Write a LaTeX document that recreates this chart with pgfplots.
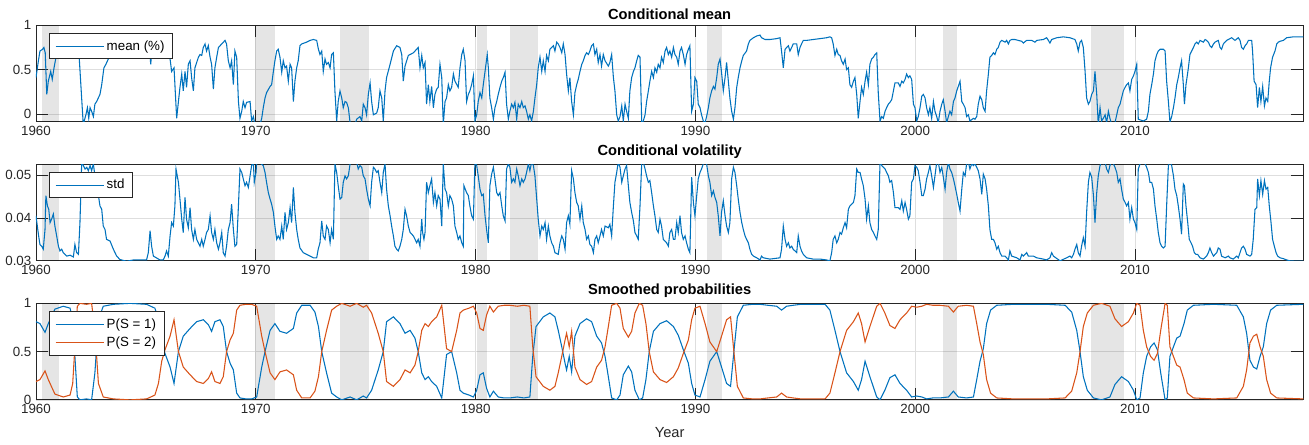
\documentclass[border=0pt]{standalone}
\usepackage{fontspec}
\setmainfont{Liberation Sans}
\usepackage{pgfplots}
\usepackage{pgfplotstable}
\pgfplotsset{compat=1.18}
\definecolor{mblue}{RGB}{0,114,189}
\definecolor{morange}{RGB}{217,83,25}
\definecolor{axgray}{RGB}{38,38,38}
\definecolor{gridgray}{RGB}{222,222,222}

\pgfplotstableread{
x y
1960.00 0.41
1960.11 0.60
1960.18 0.71
1960.30 0.73
1960.36 0.75
1960.42 0.69
1960.49 0.22
1960.56 0.37
1960.67 0.48
1960.74 0.39
1960.82 0.52
1960.91 0.64
1961.00 0.70
1961.20 0.78
1961.40 0.82
1961.60 0.80
1961.80 0.72
1961.97 0.62
1962.15 -0.12
1962.27 -0.01
1962.34 0.07
1962.40 -0.05
1962.46 0.07
1962.53 0.03
1962.61 -0.03
1962.68 0.11
1962.76 0.14
1962.91 0.22
1962.99 0.33
1963.09 0.52
1963.18 0.56
1963.29 0.62
1963.40 0.70
1963.70 0.80
1964.00 0.84
1964.50 0.85
1965.00 0.84
1965.16 0.75
1965.22 0.56
1965.28 0.75
1965.50 0.80
1965.80 0.78
1966.10 0.62
1966.17 0.48
1966.28 0.52
1966.40 -0.05
1966.48 0.14
1966.55 0.30
1966.63 0.45
1966.70 0.26
1966.78 0.48
1966.85 0.30
1966.93 0.56
1967.01 0.60
1967.08 0.41
1967.16 0.26
1967.23 0.52
1967.39 0.64
1967.46 0.67
1967.54 0.66
1967.61 0.75
1967.69 0.79
1967.76 0.71
1967.84 0.77
1967.92 0.64
1967.99 0.56
1968.07 0.28
1968.14 0.52
1968.22 0.64
1968.30 0.75
1968.45 0.79
1968.60 0.83
1968.67 0.79
1968.75 0.60
1968.83 0.52
1968.90 0.60
1968.98 0.33
1969.05 0.71
1969.13 0.64
1969.21 0.14
1969.28 -0.05
1969.36 0.03
1969.43 0.14
1969.51 0.07
1969.58 0.13
1969.74 0.14
1969.81 -0.08
1969.89 -0.03
1969.96 -0.12
1970.19 -0.12
1970.27 -0.05
1970.34 0.07
1970.42 0.18
1970.49 0.24
1970.65 0.31
1970.72 0.33
1970.80 0.48
1970.87 0.60
1970.95 0.71
1971.02 0.73
1971.10 0.64
1971.18 0.47
1971.25 0.60
1971.33 0.52
1971.40 0.54
1971.48 0.37
1971.56 0.56
1971.63 0.52
1971.71 0.14
1971.78 0.37
1971.86 0.52
1971.93 0.60
1972.01 0.77
1972.09 0.79
1972.31 0.81
1972.47 0.83
1972.62 0.84
1972.77 0.83
1972.85 0.73
1972.92 0.67
1973.00 0.71
1973.07 0.48
1973.15 0.62
1973.22 0.56
1973.30 0.58
1973.38 0.52
1973.45 0.67
1973.53 0.69
1973.60 0.26
1973.68 -0.08
1973.75 0.14
1973.83 0.26
1973.91 0.18
1973.98 0.07
1974.06 0.14
1974.13 0.13
1974.21 0.07
1974.29 -0.10
1974.51 -0.12
1974.59 -0.06
1974.74 -0.03
1974.82 -0.08
1974.89 0.11
1974.97 0.07
1975.04 -0.01
1975.12 0.22
1975.20 0.35
1975.27 0.14
1975.35 -0.01
1975.50 0.01
1975.57 0.07
1975.65 0.26
1975.73 0.18
1975.80 -0.08
1975.88 0.26
1975.95 0.41
1976.11 0.56
1976.26 0.71
1976.41 0.77
1976.56 0.75
1976.64 0.67
1976.71 0.37
1976.79 0.54
1976.94 0.66
1977.17 0.69
1977.39 0.75
1977.47 0.52
1977.55 0.66
1977.62 0.52
1977.70 0.58
1977.77 0.11
1977.85 0.33
1977.92 0.14
1978.00 0.31
1978.08 0.07
1978.15 0.22
1978.23 0.28
1978.30 0.30
1978.38 0.56
1978.46 0.41
1978.53 -0.12
1978.61 0.14
1978.68 0.18
1978.76 0.33
1978.83 0.26
1978.91 0.30
1978.99 0.45
1979.06 0.37
1979.21 0.30
1979.29 0.52
1979.37 0.67
1979.44 0.73
1979.52 0.60
1979.59 0.14
1979.67 0.22
1979.74 0.26
1979.82 0.33
1979.90 0.43
1979.97 -0.08
1980.05 -0.01
1980.12 0.14
1980.20 0.24
1980.28 0.18
1980.35 0.33
1980.43 0.48
1980.53 0.67
1980.58 0.52
1980.65 0.18
1980.73 0.07
1980.81 -0.06
1980.88 0.07
1980.96 0.14
1981.03 0.22
1981.11 0.30
1981.19 0.37
1981.26 0.41
1981.34 0.47
1981.41 0.11
1981.49 -0.06
1981.56 0.03
1981.64 0.11
1981.72 0.07
1981.79 0.13
1981.87 -0.06
1981.94 0.11
1982.02 0.07
1982.10 0.14
1982.17 0.07
1982.25 0.09
1982.32 0.03
1982.40 -0.06
1982.47 -0.01
1982.55 -0.08
1982.63 0.03
1982.70 0.18
1982.78 0.33
1982.85 0.52
1982.93 0.64
1983.01 0.48
1983.08 0.60
1983.16 0.48
1983.23 0.66
1983.31 0.60
1983.38 0.73
1983.54 0.77
1983.61 0.71
1983.69 0.81
1983.76 0.79
1983.84 0.75
1983.92 0.69
1983.99 0.79
1984.07 0.67
1984.14 0.45
1984.22 0.26
1984.29 0.41
1984.37 0.14
1984.45 -0.01
1984.52 0.24
1984.60 0.33
1984.67 0.39
1984.75 0.48
1984.83 0.56
1984.90 0.60
1984.98 0.66
1985.05 0.69
1985.13 0.67
1985.20 0.71
1985.28 0.77
1985.36 0.79
1985.43 0.67
1985.51 0.73
1985.58 0.58
1985.66 0.67
1985.73 0.54
1985.81 0.67
1985.89 0.60
1986.04 0.54
1986.11 0.58
1986.19 0.67
1986.27 0.41
1986.34 0.26
1986.42 -0.01
1986.49 -0.08
1986.57 -0.03
1986.65 0.09
1986.72 -0.08
1986.80 0.11
1986.87 0.03
1986.95 -0.05
1987.02 0.26
1987.10 0.41
1987.18 0.48
1987.25 0.52
1987.33 0.60
1987.40 0.66
1987.48 0.64
1987.56 -0.10
1987.63 -0.08
1987.71 -0.01
1987.78 0.14
1987.86 0.26
1987.93 0.37
1988.01 0.48
1988.09 0.41
1988.16 0.52
1988.24 0.47
1988.31 0.56
1988.39 0.52
1988.46 0.64
1988.54 0.58
1988.62 0.71
1988.69 0.75
1988.77 0.67
1988.84 0.71
1988.92 0.64
1989.00 0.75
1989.07 0.67
1989.15 0.64
1989.22 0.56
1989.30 0.71
1989.37 0.75
1989.45 0.67
1989.53 0.56
1989.60 0.67
1989.68 0.73
1989.75 0.77
1989.83 0.03
1989.91 0.11
1989.98 0.41
1990.06 0.37
1990.13 0.11
1990.21 0.07
1990.28 -0.01
1990.36 -0.08
1990.44 -0.10
1990.51 -0.03
1990.59 0.07
1990.66 0.18
1990.74 0.26
1990.82 0.31
1990.89 0.28
1990.97 0.41
1991.04 0.56
1991.12 0.62
1991.19 0.47
1991.27 0.26
1991.35 0.41
1991.42 0.58
1991.50 0.37
1991.57 0.18
1991.65 0.03
1991.73 -0.06
1991.80 0.07
1991.88 0.30
1991.95 0.41
1992.03 0.52
1992.11 0.60
1992.18 0.66
1992.33 0.71
1992.41 0.79
1992.48 0.83
1992.64 0.86
1992.79 0.88
1992.94 0.89
1993.01 0.86
1993.17 0.84
1993.39 0.84
1993.70 0.85
1993.85 0.86
1993.92 0.71
1994.00 0.52
1994.08 0.73
1994.23 0.77
1994.30 0.71
1994.38 0.75
1994.45 0.79
1994.61 0.79
1994.68 0.67
1994.76 0.75
1994.83 0.79
1994.91 0.83
1995.06 0.83
1995.36 0.84
1995.67 0.85
1995.97 0.86
1996.12 0.87
1996.20 0.86
1996.27 0.79
1996.35 0.66
1996.43 0.73
1996.50 0.67
1996.58 0.66
1996.65 0.60
1996.73 0.56
1996.81 0.62
1996.88 0.50
1996.96 0.52
1997.03 0.33
1997.11 0.30
1997.19 0.37
1997.26 0.41
1997.34 0.22
1997.41 -0.05
1997.49 0.14
1997.56 0.30
1997.64 0.22
1997.72 0.37
1997.79 0.47
1997.87 0.33
1997.94 0.56
1998.02 0.62
1998.10 0.64
1998.17 0.67
1998.25 0.69
1998.32 0.24
1998.40 -0.08
1998.48 -0.03
1998.55 -0.05
1998.63 0.03
1998.70 0.07
1998.78 0.11
1998.85 0.13
1998.93 0.16
1999.01 0.26
1999.08 0.35
1999.23 0.35
1999.31 0.31
1999.39 0.37
1999.46 0.35
1999.54 0.39
1999.61 0.45
1999.69 0.41
1999.76 0.43
1999.84 0.39
1999.92 0.11
1999.99 0.07
2000.07 -0.08
2000.14 -0.03
2000.22 0.07
2000.30 0.20
2000.37 0.22
2000.45 0.18
2000.52 0.07
2000.60 -0.01
2000.67 0.07
2000.75 -0.05
2000.83 0.14
2000.90 0.03
2000.98 -0.03
2001.05 -0.10
2001.13 0.03
2001.21 0.11
2001.28 0.16
2001.36 0.03
2001.43 -0.10
2001.51 -0.03
2001.58 0.03
2001.66 -0.01
2001.74 0.14
2001.81 0.18
2001.89 0.26
2001.96 0.31
2002.04 0.37
2002.12 0.14
2002.19 0.11
2002.27 0.07
2002.34 -0.03
2002.42 -0.01
2002.49 -0.08
2002.65 -0.05
2002.72 -0.06
2002.80 -0.03
2002.87 0.11
2002.95 0.20
2003.03 0.16
2003.10 0.07
2003.18 0.03
2003.25 0.26
2003.33 0.45
2003.40 0.64
2003.48 0.66
2003.56 0.69
2003.63 0.67
2003.71 0.73
2003.78 0.75
2003.86 0.81
2003.94 0.83
2004.09 0.81
2004.16 0.83
2004.24 0.79
2004.31 0.83
2004.39 0.84
2004.54 0.84
2004.69 0.83
2004.85 0.82
2004.92 0.80
2005.07 0.83
2005.30 0.83
2005.45 0.81
2005.53 0.83
2005.83 0.84
2005.98 0.86
2006.06 0.83
2006.13 0.80
2006.21 0.84
2006.44 0.86
2006.74 0.87
2007.04 0.86
2007.27 0.84
2007.35 0.79
2007.42 0.71
2007.50 0.81
2007.57 0.83
2007.65 0.75
2007.73 0.48
2007.80 0.18
2007.88 0.11
2007.95 0.14
2008.03 0.22
2008.11 0.26
2008.18 0.48
2008.26 0.22
2008.33 -0.12
2008.41 0.07
2008.48 -0.08
2008.56 -0.05
2008.64 -0.01
2008.71 -0.10
2008.79 0.03
2008.86 -0.05
2008.94 -0.12
2009.09 -0.10
2009.17 -0.01
2009.24 0.07
2009.32 0.11
2009.39 0.18
2009.47 0.26
2009.55 0.30
2009.62 0.33
2009.70 0.35
2009.77 0.26
2009.85 0.39
2009.93 0.43
2010.00 0.48
2010.08 0.56
2010.15 -0.06
2010.38 -0.08
2010.53 -0.06
2010.61 0.03
2010.68 0.22
2010.76 0.33
2010.84 0.45
2010.91 0.60
2010.99 0.67
2011.06 0.71
2011.14 0.73
2011.29 0.73
2011.37 0.71
2011.44 0.37
2011.52 0.14
2011.59 -0.09
2011.67 -0.03
2011.75 0.07
2011.82 0.18
2011.90 0.33
2011.97 0.41
2012.05 0.52
2012.12 0.60
2012.20 0.33
2012.25 0.11
2012.32 0.33
2012.43 0.52
2012.50 0.67
2012.58 0.71
2012.66 0.75
2012.73 0.79
2012.81 0.81
2012.88 0.79
2012.96 0.83
2013.11 0.81
2013.19 0.84
2013.26 0.83
2013.34 0.81
2013.41 0.77
2013.49 0.75
2013.57 0.79
2013.64 0.81
2013.79 0.83
2013.87 0.75
2013.94 0.73
2014.02 0.79
2014.17 0.83
2014.40 0.86
2014.55 0.83
2014.70 0.86
2014.78 0.83
2014.85 0.75
2014.93 0.73
2015.01 0.77
2015.08 0.79
2015.16 0.83
2015.31 0.83
2015.35 0.71
2015.42 0.37
2015.51 0.33
2015.58 0.07
2015.66 0.30
2015.73 0.14
2015.81 0.31
2015.89 0.09
2015.96 0.18
2016.04 0.14
2016.11 0.37
2016.17 0.52
2016.26 0.64
2016.37 0.71
2016.45 0.79
2016.52 0.81
2016.60 0.82
2016.75 0.83
2016.90 0.86
2017.20 0.87
2017.66 0.87
}\meantab

\pgfplotstableread{
x y
1960.00 0.0405
1960.06 0.0381
1960.12 0.0358
1960.18 0.0338
1960.26 0.0334
1960.33 0.0327
1960.41 0.0373
1960.45 0.0452
1960.52 0.0428
1960.58 0.0420
1960.64 0.0389
1960.71 0.0397
1960.79 0.0409
1960.86 0.0381
1960.94 0.0358
1961.02 0.0334
1961.09 0.0323
1961.17 0.0327
1961.24 0.0319
1961.40 0.0311
1961.55 0.0313
1961.70 0.0309
1961.77 0.0338
1961.85 0.0319
1961.93 0.0315
1962.00 0.0389
1962.08 0.0530
1962.23 0.0514
1962.31 0.0518
1962.38 0.0510
1962.46 0.0522
1962.53 0.0510
1962.61 0.0526
1962.68 0.0498
1962.76 0.0475
1962.84 0.0452
1962.91 0.0428
1962.99 0.0420
1963.06 0.0381
1963.14 0.0373
1963.21 0.0350
1963.37 0.0346
1963.52 0.0327
1963.67 0.0311
1963.82 0.0303
1964.12 0.0299
1964.43 0.0302
1965.03 0.0302
1965.11 0.0319
1965.19 0.0370
1965.26 0.0334
1965.34 0.0311
1965.64 0.0302
1965.79 0.0302
1965.87 0.0311
1965.94 0.0323
1966.02 0.0311
1966.10 0.0358
1966.17 0.0389
1966.25 0.0381
1966.32 0.0428
1966.37 0.0514
1966.48 0.0483
1966.55 0.0444
1966.63 0.0397
1966.70 0.0366
1966.78 0.0448
1966.85 0.0397
1966.93 0.0377
1967.01 0.0424
1967.08 0.0373
1967.16 0.0350
1967.23 0.0373
1967.31 0.0350
1967.46 0.0334
1967.54 0.0350
1967.61 0.0334
1967.69 0.0350
1967.76 0.0366
1967.84 0.0373
1967.92 0.0405
1967.99 0.0366
1968.07 0.0350
1968.14 0.0373
1968.22 0.0342
1968.30 0.0327
1968.37 0.0342
1968.45 0.0366
1968.52 0.0319
1968.60 0.0311
1968.67 0.0334
1968.75 0.0373
1968.83 0.0389
1968.90 0.0432
1968.98 0.0373
1969.05 0.0334
1969.13 0.0338
1969.21 0.0428
1969.28 0.0514
1969.36 0.0506
1969.43 0.0491
1969.51 0.0475
1969.58 0.0483
1969.66 0.0471
1969.74 0.0498
1969.81 0.0522
1969.89 0.0530
1969.93 0.0483
1970.01 0.0506
1970.04 0.0530
1970.20 0.0528
1970.34 0.0522
1970.42 0.0506
1970.49 0.0483
1970.57 0.0459
1970.65 0.0444
1970.72 0.0432
1970.80 0.0413
1970.87 0.0381
1970.95 0.0350
1971.02 0.0358
1971.10 0.0350
1971.18 0.0381
1971.25 0.0350
1971.33 0.0413
1971.40 0.0373
1971.48 0.0389
1971.56 0.0424
1971.63 0.0389
1971.71 0.0471
1971.78 0.0413
1971.86 0.0373
1971.93 0.0350
1972.01 0.0330
1972.16 0.0319
1972.31 0.0315
1972.47 0.0311
1972.62 0.0307
1972.77 0.0307
1972.84 0.0327
1972.92 0.0342
1973.00 0.0393
1973.07 0.0358
1973.15 0.0350
1973.22 0.0381
1973.30 0.0373
1973.38 0.0342
1973.45 0.0373
1973.53 0.0350
1973.60 0.0526
1973.68 0.0506
1973.75 0.0475
1973.83 0.0444
1973.91 0.0448
1973.98 0.0483
1974.06 0.0498
1974.13 0.0491
1974.21 0.0498
1974.29 0.0526
1974.44 0.0530
1974.59 0.0530
1974.66 0.0514
1974.74 0.0522
1974.82 0.0518
1974.89 0.0498
1974.97 0.0491
1975.04 0.0467
1975.12 0.0444
1975.20 0.0428
1975.27 0.0483
1975.35 0.0518
1975.42 0.0514
1975.50 0.0506
1975.57 0.0510
1975.65 0.0483
1975.73 0.0459
1975.80 0.0506
1975.88 0.0526
1975.95 0.0467
1976.03 0.0428
1976.11 0.0405
1976.18 0.0381
1976.26 0.0358
1976.33 0.0334
1976.41 0.0327
1976.48 0.0323
1976.56 0.0334
1976.64 0.0350
1976.71 0.0373
1976.79 0.0420
1976.86 0.0405
1976.94 0.0381
1977.02 0.0366
1977.17 0.0358
1977.32 0.0342
1977.39 0.0350
1977.47 0.0334
1977.55 0.0397
1977.59 0.0366
1977.65 0.0350
1977.70 0.0366
1977.77 0.0483
1977.85 0.0459
1977.92 0.0475
1978.00 0.0491
1978.08 0.0436
1978.15 0.0459
1978.23 0.0428
1978.30 0.0452
1978.38 0.0444
1978.46 0.0381
1978.53 0.0526
1978.61 0.0467
1978.68 0.0459
1978.76 0.0428
1978.83 0.0452
1978.91 0.0444
1978.99 0.0428
1979.06 0.0381
1979.14 0.0366
1979.21 0.0350
1979.29 0.0358
1979.37 0.0342
1979.44 0.0334
1979.47 0.0475
1979.59 0.0459
1979.67 0.0452
1979.74 0.0428
1979.82 0.0405
1979.90 0.0397
1979.97 0.0530
1980.05 0.0522
1980.12 0.0498
1980.20 0.0467
1980.28 0.0452
1980.35 0.0455
1980.43 0.0405
1980.50 0.0373
1980.58 0.0342
1980.65 0.0475
1980.73 0.0502
1980.81 0.0518
1980.88 0.0491
1980.96 0.0459
1981.03 0.0452
1981.11 0.0459
1981.19 0.0428
1981.26 0.0405
1981.34 0.0393
1981.41 0.0514
1981.49 0.0526
1981.56 0.0518
1981.64 0.0483
1981.72 0.0491
1981.79 0.0483
1981.87 0.0514
1981.94 0.0498
1982.02 0.0475
1982.10 0.0491
1982.17 0.0483
1982.25 0.0491
1982.32 0.0506
1982.40 0.0526
1982.47 0.0510
1982.55 0.0530
1982.63 0.0522
1982.70 0.0498
1982.78 0.0444
1982.85 0.0397
1982.93 0.0358
1983.01 0.0381
1983.08 0.0373
1983.16 0.0389
1983.23 0.0350
1983.31 0.0381
1983.38 0.0358
1983.46 0.0342
1983.54 0.0334
1983.61 0.0319
1983.76 0.0315
1983.84 0.0342
1983.92 0.0358
1983.99 0.0350
1984.07 0.0327
1984.14 0.0389
1984.22 0.0405
1984.29 0.0385
1984.37 0.0510
1984.45 0.0491
1984.52 0.0459
1984.60 0.0436
1984.67 0.0428
1984.75 0.0397
1984.83 0.0428
1984.90 0.0389
1984.98 0.0373
1985.05 0.0350
1985.13 0.0358
1985.20 0.0338
1985.28 0.0334
1985.36 0.0319
1985.43 0.0350
1985.51 0.0358
1985.58 0.0342
1985.66 0.0358
1985.73 0.0373
1985.81 0.0358
1985.89 0.0381
1986.04 0.0377
1986.11 0.0385
1986.19 0.0358
1986.27 0.0428
1986.34 0.0483
1986.42 0.0506
1986.49 0.0530
1986.57 0.0518
1986.65 0.0483
1986.72 0.0498
1986.80 0.0514
1986.87 0.0522
1986.95 0.0475
1987.02 0.0436
1987.10 0.0413
1987.18 0.0393
1987.25 0.0366
1987.33 0.0358
1987.40 0.0350
1987.48 0.0428
1987.56 0.0530
1987.63 0.0530
1987.71 0.0514
1987.78 0.0498
1987.86 0.0483
1987.93 0.0487
1988.01 0.0459
1988.09 0.0428
1988.16 0.0405
1988.24 0.0373
1988.31 0.0366
1988.39 0.0397
1988.46 0.0381
1988.54 0.0350
1988.69 0.0342
1988.77 0.0334
1988.84 0.0366
1988.92 0.0373
1989.00 0.0350
1989.07 0.0350
1989.15 0.0389
1989.22 0.0366
1989.30 0.0405
1989.37 0.0366
1989.45 0.0350
1989.53 0.0358
1989.60 0.0342
1989.68 0.0327
1989.75 0.0319
1989.83 0.0495
1989.91 0.0436
1989.98 0.0405
1990.06 0.0452
1990.13 0.0491
1990.21 0.0506
1990.28 0.0514
1990.36 0.0526
1990.44 0.0530
1990.51 0.0526
1990.59 0.0498
1990.66 0.0483
1990.74 0.0452
1990.82 0.0463
1990.89 0.0448
1990.97 0.0436
1991.04 0.0405
1991.12 0.0358
1991.19 0.0413
1991.27 0.0440
1991.35 0.0405
1991.42 0.0381
1991.50 0.0366
1991.57 0.0389
1991.65 0.0491
1991.73 0.0518
1991.80 0.0506
1991.88 0.0475
1991.95 0.0444
1992.03 0.0413
1992.11 0.0389
1992.18 0.0373
1992.26 0.0358
1992.33 0.0350
1992.41 0.0342
1992.48 0.0327
1992.56 0.0315
1992.64 0.0311
1992.79 0.0307
1992.94 0.0302
1993.01 0.0311
1993.09 0.0307
1993.39 0.0304
1993.85 0.0307
1993.92 0.0327
1994.00 0.0381
1994.08 0.0350
1994.15 0.0334
1994.23 0.0342
1994.30 0.0330
1994.38 0.0334
1994.45 0.0327
1994.61 0.0319
1994.68 0.0358
1994.76 0.0334
1994.83 0.0323
1994.91 0.0315
1995.06 0.0307
1995.36 0.0304
1995.67 0.0304
1995.97 0.0302
1996.12 0.0300
1996.20 0.0319
1996.27 0.0350
1996.35 0.0358
1996.43 0.0342
1996.50 0.0350
1996.58 0.0366
1996.65 0.0362
1996.73 0.0377
1996.81 0.0389
1996.88 0.0377
1996.96 0.0420
1997.03 0.0428
1997.19 0.0436
1997.26 0.0452
1997.34 0.0514
1997.41 0.0506
1997.49 0.0506
1997.56 0.0491
1997.64 0.0475
1997.72 0.0444
1997.79 0.0397
1997.87 0.0428
1997.94 0.0389
1998.02 0.0373
1998.10 0.0366
1998.17 0.0358
1998.25 0.0350
1998.32 0.0373
1998.40 0.0530
1998.48 0.0522
1998.55 0.0518
1998.63 0.0514
1998.70 0.0506
1998.78 0.0498
1998.85 0.0483
1998.93 0.0487
1999.01 0.0459
1999.08 0.0424
1999.23 0.0424
1999.31 0.0420
1999.39 0.0440
1999.46 0.0416
1999.54 0.0436
1999.61 0.0420
1999.69 0.0397
1999.76 0.0405
1999.84 0.0483
1999.92 0.0491
1999.99 0.0522
2000.07 0.0518
2000.14 0.0510
2000.22 0.0483
2000.30 0.0452
2000.37 0.0452
2000.45 0.0467
2000.52 0.0491
2000.60 0.0506
2000.67 0.0522
2000.75 0.0498
2000.83 0.0471
2000.90 0.0498
2000.98 0.0530
2001.05 0.0530
2001.13 0.0506
2001.21 0.0518
2001.28 0.0495
2001.36 0.0467
2001.43 0.0506
2001.51 0.0530
2001.58 0.0514
2001.66 0.0506
2001.74 0.0491
2001.81 0.0475
2001.89 0.0455
2001.96 0.0436
2002.04 0.0416
2002.12 0.0467
2002.19 0.0506
2002.27 0.0498
2002.34 0.0526
2002.42 0.0530
2002.49 0.0514
2002.57 0.0526
2002.65 0.0522
2002.72 0.0526
2002.80 0.0518
2002.87 0.0510
2002.95 0.0491
2003.03 0.0455
2003.10 0.0502
2003.18 0.0491
2003.25 0.0467
2003.33 0.0428
2003.40 0.0373
2003.48 0.0350
2003.56 0.0350
2003.63 0.0342
2003.71 0.0327
2003.78 0.0334
2003.86 0.0319
2003.94 0.0311
2004.09 0.0311
2004.16 0.0307
2004.24 0.0302
2004.31 0.0323
2004.39 0.0311
2004.62 0.0307
2004.77 0.0302
2004.85 0.0315
2004.92 0.0311
2005.00 0.0315
2005.07 0.0319
2005.15 0.0311
2005.38 0.0311
2005.53 0.0307
2005.83 0.0304
2005.98 0.0302
2006.13 0.0307
2006.21 0.0319
2006.29 0.0311
2006.59 0.0300
2006.89 0.0307
2007.04 0.0311
2007.12 0.0307
2007.20 0.0315
2007.27 0.0327
2007.35 0.0338
2007.42 0.0319
2007.50 0.0311
2007.57 0.0334
2007.65 0.0354
2007.73 0.0334
2007.80 0.0413
2007.88 0.0483
2007.95 0.0506
2008.03 0.0495
2008.11 0.0452
2008.18 0.0389
2008.26 0.0459
2008.33 0.0498
2008.41 0.0522
2008.48 0.0530
2008.56 0.0526
2008.64 0.0530
2008.71 0.0514
2008.79 0.0506
2008.86 0.0522
2008.94 0.0530
2009.02 0.0526
2009.09 0.0518
2009.17 0.0506
2009.24 0.0483
2009.32 0.0491
2009.39 0.0467
2009.47 0.0444
2009.55 0.0436
2009.62 0.0428
2009.70 0.0436
2009.77 0.0397
2009.85 0.0424
2009.93 0.0397
2010.00 0.0389
2010.08 0.0373
2010.15 0.0514
2010.23 0.0526
2010.38 0.0530
2010.46 0.0526
2010.53 0.0518
2010.61 0.0506
2010.68 0.0483
2010.76 0.0483
2010.84 0.0467
2010.91 0.0428
2010.99 0.0397
2011.06 0.0366
2011.14 0.0342
2011.21 0.0334
2011.29 0.0330
2011.37 0.0334
2011.44 0.0428
2011.52 0.0522
2011.59 0.0530
2011.67 0.0522
2011.75 0.0498
2011.82 0.0467
2011.90 0.0452
2011.97 0.0428
2012.05 0.0397
2012.12 0.0362
2012.20 0.0479
2012.25 0.0475
2012.32 0.0428
2012.40 0.0389
2012.47 0.0350
2012.55 0.0342
2012.62 0.0334
2012.70 0.0319
2012.78 0.0315
2012.85 0.0315
2012.96 0.0307
2013.11 0.0304
2013.26 0.0311
2013.34 0.0319
2013.41 0.0330
2013.49 0.0319
2013.57 0.0311
2013.72 0.0319
2013.79 0.0330
2013.87 0.0327
2013.94 0.0311
2014.10 0.0307
2014.25 0.0311
2014.32 0.0307
2014.47 0.0304
2014.63 0.0311
2014.70 0.0307
2014.78 0.0319
2014.85 0.0330
2014.93 0.0334
2015.01 0.0327
2015.08 0.0315
2015.23 0.0311
2015.31 0.0315
2015.38 0.0350
2015.46 0.0420
2015.54 0.0424
2015.58 0.0491
2015.66 0.0452
2015.73 0.0487
2015.81 0.0455
2015.89 0.0487
2015.96 0.0467
2016.04 0.0471
2016.11 0.0428
2016.19 0.0389
2016.26 0.0350
2016.34 0.0334
2016.42 0.0319
2016.49 0.0311
2016.60 0.0307
2016.75 0.0305
2016.90 0.0302
2017.05 0.0300
2017.36 0.0299
2017.66 0.0299
}\stdtab

\pgfplotstableread{
x p1 p2
1960.00 0.81 0.19
1960.18 0.79 0.21
1960.41 0.70 0.30
1960.56 0.79 0.21
1960.86 0.94 0.06
1961.24 0.97 0.03
1961.55 0.95 0.05
1961.67 0.83 0.17
1961.77 0.45 0.55
1961.88 0.03 0.97
1962.00 0.00 1.00
1962.30 0.01 0.99
1962.53 0.00 1.00
1962.68 0.28 0.72
1962.84 0.83 0.17
1963.06 0.97 0.03
1963.52 0.99 0.01
1964.28 1.00 0.00
1965.03 0.99 0.01
1965.41 0.95 0.05
1965.57 0.83 0.17
1965.72 0.60 0.40
1965.87 0.48 0.52
1966.10 0.34 0.66
1966.28 0.17 0.83
1966.48 0.50 0.50
1966.70 0.66 0.34
1967.01 0.74 0.26
1967.31 0.81 0.19
1967.61 0.83 0.17
1967.84 0.78 0.22
1967.99 0.71 0.29
1968.14 0.81 0.19
1968.37 0.83 0.17
1968.52 0.76 0.24
1968.67 0.50 0.50
1968.83 0.38 0.62
1968.98 0.31 0.69
1969.13 0.07 0.93
1969.28 0.02 0.98
1969.55 0.01 0.99
1969.81 0.01 0.99
1970.04 0.03 0.97
1970.27 0.34 0.66
1970.42 0.50 0.50
1970.65 0.72 0.28
1970.87 0.79 0.21
1971.10 0.71 0.29
1971.40 0.69 0.31
1971.71 0.74 0.26
1971.86 0.90 0.10
1972.09 0.98 0.02
1972.47 0.98 0.02
1972.69 0.91 0.09
1972.85 0.76 0.24
1973.00 0.50 0.50
1973.22 0.28 0.72
1973.45 0.07 0.93
1973.68 0.03 0.97
1973.91 0.00 1.00
1974.29 0.03 0.97
1974.59 0.00 1.00
1974.89 0.04 0.96
1975.04 0.02 0.98
1975.27 0.10 0.90
1975.57 0.31 0.69
1975.80 0.50 0.50
1975.95 0.81 0.19
1976.26 0.86 0.14
1976.56 0.79 0.21
1976.79 0.69 0.31
1977.02 0.72 0.28
1977.24 0.64 0.36
1977.39 0.50 0.50
1977.55 0.28 0.72
1977.70 0.21 0.79
1977.85 0.24 0.76
1978.00 0.19 0.81
1978.23 0.14 0.86
1978.46 0.02 0.98
1978.68 0.47 0.53
1978.91 0.50 0.50
1979.14 0.28 0.72
1979.29 0.10 0.90
1979.44 0.07 0.93
1979.70 0.05 0.95
1979.90 0.03 0.97
1980.05 0.10 0.90
1980.20 0.26 0.74
1980.35 0.28 0.72
1980.50 0.12 0.88
1980.65 0.03 0.97
1980.81 0.09 0.91
1981.03 0.03 0.97
1981.30 0.02 0.98
1981.56 0.02 0.98
1981.90 0.03 0.97
1982.20 0.02 0.98
1982.47 0.03 0.97
1982.60 0.45 0.55
1982.75 0.76 0.24
1983.08 0.86 0.14
1983.38 0.90 0.10
1983.61 0.86 0.14
1983.76 0.72 0.28
1983.92 0.55 0.45
1984.07 0.38 0.62
1984.14 0.31 0.69
1984.26 0.45 0.55
1984.37 0.29 0.71
1984.52 0.66 0.34
1984.75 0.79 0.21
1985.05 0.84 0.16
1985.28 0.81 0.19
1985.51 0.66 0.34
1985.73 0.59 0.41
1985.89 0.45 0.55
1986.04 0.24 0.76
1986.19 0.02 0.98
1986.42 0.00 1.00
1986.57 0.05 0.95
1986.72 0.26 0.74
1986.95 0.35 0.65
1987.10 0.29 0.71
1987.25 0.10 0.90
1987.45 0.00 1.00
1987.60 0.02 0.98
1987.75 0.21 0.79
1987.90 0.50 0.50
1988.09 0.71 0.29
1988.39 0.79 0.21
1988.69 0.82 0.18
1989.00 0.76 0.24
1989.22 0.67 0.33
1989.45 0.52 0.48
1989.68 0.38 0.62
1989.83 0.17 0.83
1989.98 0.05 0.95
1990.21 0.03 0.97
1990.44 0.21 0.79
1990.66 0.40 0.60
1990.97 0.50 0.50
1991.19 0.34 0.66
1991.42 0.17 0.83
1991.60 0.14 0.86
1991.76 0.52 0.48
1991.91 0.86 0.14
1992.18 0.98 0.02
1992.60 0.99 0.01
1992.94 0.99 0.01
1993.30 0.98 0.02
1993.70 0.97 0.03
1993.92 0.93 0.07
1994.15 0.97 0.03
1994.45 0.98 0.02
1994.80 0.99 0.01
1995.21 0.99 0.01
1995.90 0.99 0.01
1996.12 0.93 0.07
1996.35 0.72 0.28
1996.58 0.50 0.50
1996.88 0.28 0.72
1997.19 0.19 0.81
1997.41 0.10 0.90
1997.56 0.21 0.79
1997.72 0.40 0.60
1997.94 0.24 0.76
1998.25 0.03 0.97
1998.40 0.00 1.00
1998.62 0.10 0.90
1998.85 0.23 0.77
1999.08 0.26 0.74
1999.31 0.17 0.83
1999.61 0.10 0.90
1999.84 0.03 0.97
2000.07 0.04 0.96
2000.30 0.03 0.97
2000.52 0.01 0.99
2000.80 0.02 0.98
2001.13 0.02 0.98
2001.51 0.03 0.97
2001.74 0.09 0.91
2001.96 0.03 0.97
2002.34 0.02 0.98
2002.65 0.03 0.97
2002.80 0.21 0.79
2002.95 0.40 0.60
2003.10 0.53 0.47
2003.25 0.79 0.21
2003.43 0.93 0.07
2003.71 0.98 0.02
2004.47 0.99 0.01
2005.20 0.99 0.01
2005.98 0.99 0.01
2006.82 0.98 0.02
2007.12 0.91 0.09
2007.35 0.72 0.28
2007.50 0.50 0.50
2007.65 0.24 0.76
2007.83 0.10 0.90
2008.11 0.02 0.98
2008.48 0.00 1.00
2008.86 0.03 0.97
2009.09 0.16 0.84
2009.39 0.24 0.76
2009.70 0.19 0.81
2009.93 0.10 0.90
2010.08 0.00 1.00
2010.23 0.02 0.98
2010.38 0.28 0.72
2010.53 0.45 0.55
2010.71 0.55 0.45
2010.87 0.59 0.41
2011.02 0.52 0.48
2011.17 0.28 0.72
2011.37 0.00 1.00
2011.47 0.02 0.98
2011.59 0.45 0.55
2011.75 0.55 0.45
2011.90 0.64 0.36
2012.05 0.66 0.34
2012.23 0.79 0.21
2012.38 0.93 0.07
2012.66 0.98 0.02
2013.57 0.99 0.01
2014.63 0.98 0.02
2014.93 0.86 0.14
2015.08 0.69 0.31
2015.23 0.41 0.59
2015.39 0.34 0.66
2015.54 0.32 0.68
2015.69 0.45 0.55
2015.84 0.55 0.45
2015.99 0.79 0.21
2016.17 0.93 0.07
2016.45 0.98 0.02
2017.66 0.99 0.01
}\probtab

\newcommand{\recs}[2]{%
\addplot[fill=black,fill opacity=0.1,draw=none,forget plot] coordinates {(1960.26,#1) (1960.26,#2) (1961.06,#2) (1961.06,#1)} --cycle;
\addplot[fill=black,fill opacity=0.1,draw=none,forget plot] coordinates {(1969.96,#1) (1969.96,#2) (1970.87,#2) (1970.87,#1)} --cycle;
\addplot[fill=black,fill opacity=0.1,draw=none,forget plot] coordinates {(1973.83,#1) (1973.83,#2) (1975.16,#2) (1975.16,#1)} --cycle;
\addplot[fill=black,fill opacity=0.1,draw=none,forget plot] coordinates {(1980.05,#1) (1980.05,#2) (1980.50,#2) (1980.50,#1)} --cycle;
\addplot[fill=black,fill opacity=0.1,draw=none,forget plot] coordinates {(1981.55,#1) (1981.55,#2) (1982.85,#2) (1982.85,#1)} --cycle;
\addplot[fill=black,fill opacity=0.1,draw=none,forget plot] coordinates {(1990.54,#1) (1990.54,#2) (1991.20,#2) (1991.20,#1)} --cycle;
\addplot[fill=black,fill opacity=0.1,draw=none,forget plot] coordinates {(2001.25,#1) (2001.25,#2) (2001.90,#2) (2001.90,#1)} --cycle;
\addplot[fill=black,fill opacity=0.1,draw=none,forget plot] coordinates {(2007.99,#1) (2007.99,#2) (2009.48,#2) (2009.48,#1)} --cycle;
}

\pgfplotsset{legend image code/.code={\draw[#1] (0pt,0pt) -- (36pt,0pt);}}

\pgfplotsset{panel/.style={
  scale only axis, width=950.5pt, height=72.4pt,
  xmin=1960, xmax=2017.66,
  xtick={1960,1970,1980,1990,2000,2010},
  xticklabels={1960,1970,1980,1990,2000,2010},
  scaled y ticks=false, scaled x ticks=false,
  tick align=inside, major tick length=9pt,
  grid=major, major grid style={gridgray, line width=0.5pt},
  axis line style={axgray, line width=0.6pt},
  tick style={axgray, line width=0.6pt},
  tick label style={font=\fontsize{10}{12}\selectfont, text=axgray},
  title style={font=\bfseries\fontsize{11}{13}\selectfont, yshift=-5pt},
  legend style={at={(0,1)}, anchor=north west, xshift=10pt, yshift=-6pt,
    draw=axgray, line width=0.5pt, font=\fontsize{10}{12}\selectfont,
    inner xsep=4pt, inner ysep=3pt, row sep=1pt},
  legend cell align=left,
}}

\begin{document}
\begin{tikzpicture}
\path[use as bounding box] (0,0) rectangle (981.75pt,-333pt);

\begin{axis}[panel, at={(27pt,-19pt)}, anchor=north west,
  ymin=-0.09, ymax=1, ytick={0,0.5,1}, yticklabels={0,0.5,1},
  title={Conditional mean}]
\recs{-0.2}{1.1}
\addplot[mblue, line width=0.8pt] table[x=x,y=y] {\meantab};
\addlegendentry{mean (\%)}
\end{axis}

\begin{axis}[panel, at={(27pt,-123.2pt)}, anchor=north west,
  ymin=0.03, ymax=0.0525, ytick={0.03,0.04,0.05}, yticklabels={0.03,0.04,0.05},
  title={Conditional volatility}]
\recs{0.029}{0.054}
\addplot[mblue, line width=0.8pt] table[x=x,y=y] {\stdtab};
\addlegendentry{std}
\end{axis}

\begin{axis}[panel, at={(27pt,-227.5pt)}, anchor=north west,
  ymin=0, ymax=1, ytick={0,0.5,1}, yticklabels={0,0.5,1},
  title={Smoothed probabilities},
  xlabel={Year}, xlabel style={font=\fontsize{11}{13}\selectfont, text=axgray, yshift=-3.5pt}]
\recs{-0.1}{1.1}
\addplot[mblue, line width=0.8pt] table[x=x,y=p1] {\probtab};
\addlegendentry{P(S = 1)}
\addplot[morange, line width=0.8pt] table[x=x,y=p2] {\probtab};
\addlegendentry{P(S = 2)}
\end{axis}
\end{tikzpicture}
\end{document}
